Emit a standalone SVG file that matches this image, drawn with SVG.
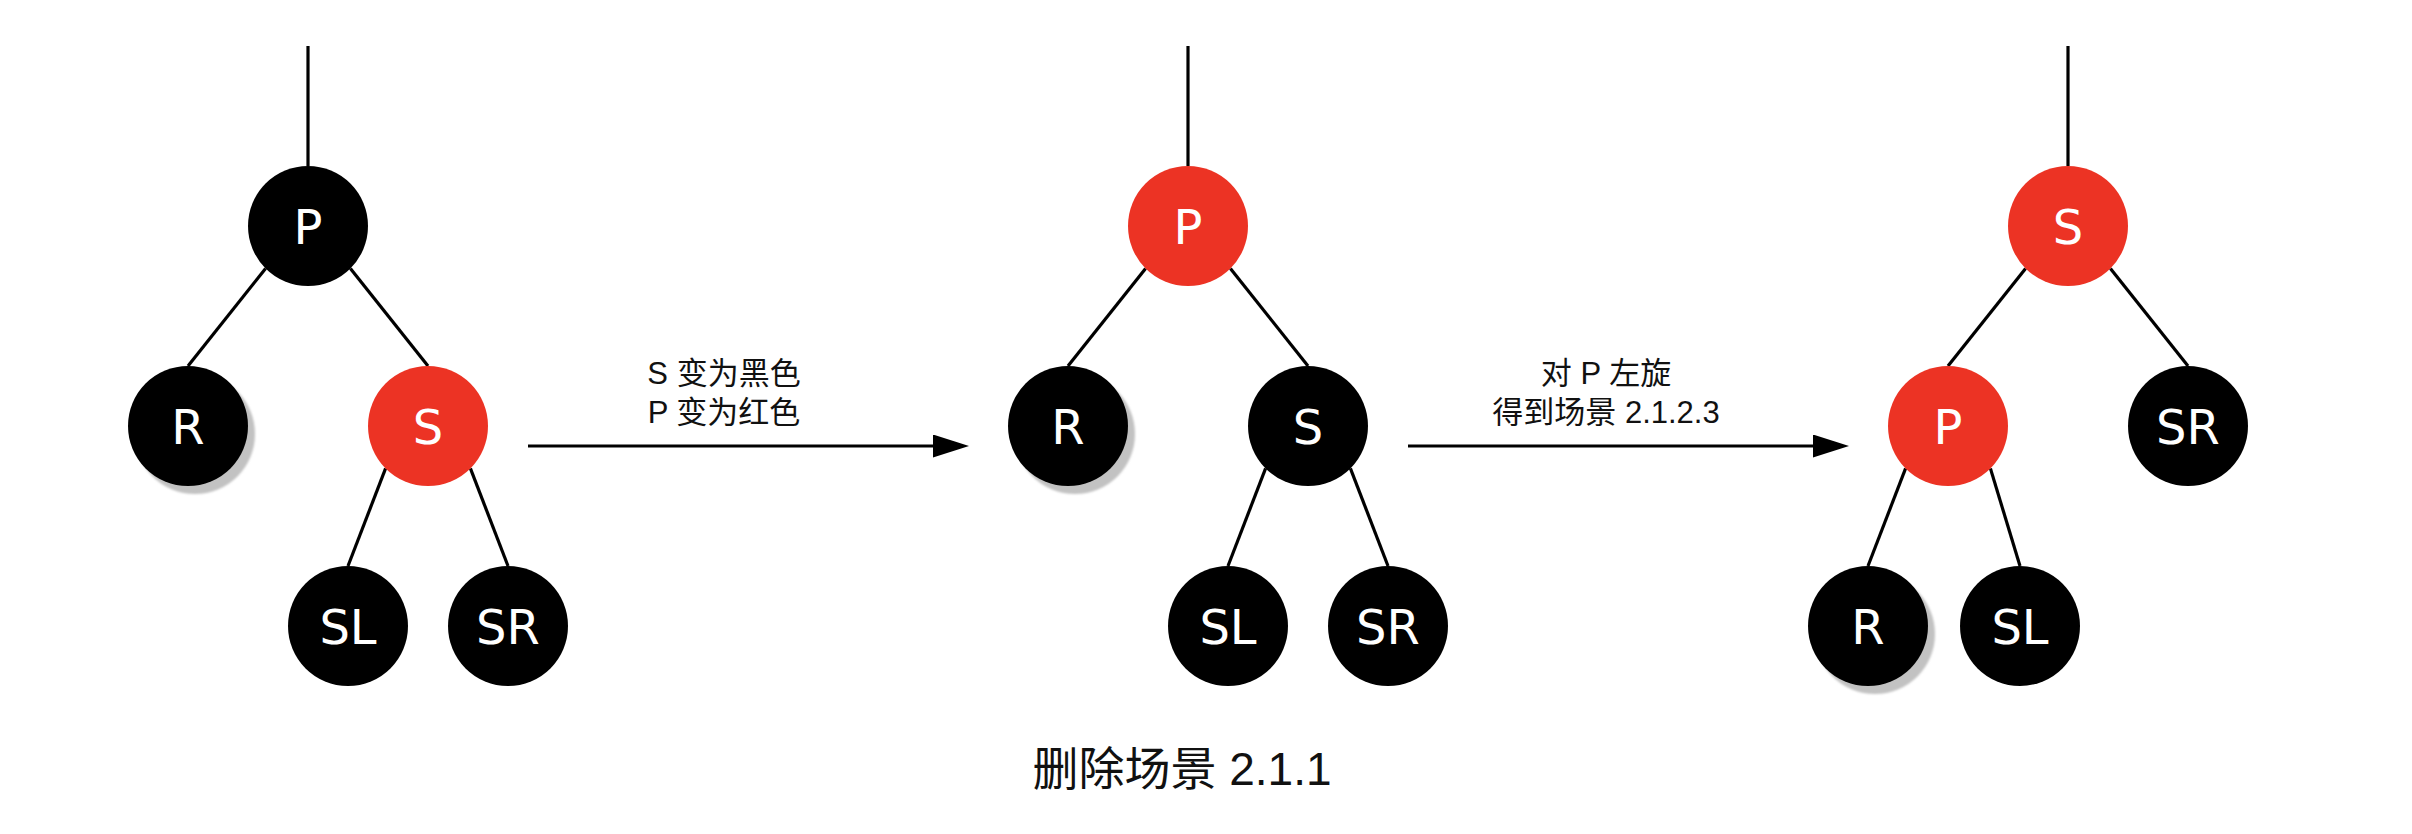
<svg xmlns="http://www.w3.org/2000/svg" width="2412" height="834" viewBox="0 0 2412 834">
  <style>
    .blk { fill: #000000; }
    .red { fill: #EC3324; }
    .shadow { fill: #c2c2c2; }
    .lbl { font-family: "DejaVu Sans", "Noto Sans", sans-serif; font-size: 48px; fill: #ffffff; text-anchor: middle; }
    .edge { stroke: #000000; stroke-width: 3.2; fill: none; }
    .note { font-family: "Liberation Sans", "Noto Sans CJK SC", sans-serif; font-size: 31px; fill: #111111; text-anchor: middle; }
    .cap { font-family: "Liberation Sans", "Noto Sans CJK SC", sans-serif; font-size: 46px; fill: #111111; text-anchor: middle; }
  </style>
  <defs>
    <marker id="arr" viewBox="0 0 36 23" refX="2" refY="11.5" markerWidth="36" markerHeight="23" markerUnits="userSpaceOnUse" orient="auto">
      <path d="M0,0 L36,11.5 L0,23 Z" fill="#000000"/>
    </marker>
    <filter id="blur" x="-20%" y="-20%" width="140%" height="140%">
      <feGaussianBlur stdDeviation="1"/>
    </filter>
  </defs>
  <rect width="2412" height="834" fill="#ffffff"/>

  <g id="connectors">
    <!-- tree 1 -->
    <line class="edge" x1="308" y1="46" x2="308" y2="166"/>
    <line class="edge" x1="265.6" y1="268.4" x2="188" y2="366"/>
    <line class="edge" x1="350.4" y1="268.4" x2="428" y2="366"/>
    <line class="edge" x1="385.6" y1="468.4" x2="348" y2="566"/>
    <line class="edge" x1="470.4" y1="468.4" x2="508" y2="566"/>
    <!-- tree 2 -->
    <line class="edge" x1="1188" y1="46" x2="1188" y2="166"/>
    <line class="edge" x1="1145.6" y1="268.4" x2="1068" y2="366"/>
    <line class="edge" x1="1230.4" y1="268.4" x2="1308" y2="366"/>
    <line class="edge" x1="1265.6" y1="468.4" x2="1228" y2="566"/>
    <line class="edge" x1="1350.4" y1="468.4" x2="1388" y2="566"/>
    <!-- tree 3 -->
    <line class="edge" x1="2068" y1="46" x2="2068" y2="166"/>
    <line class="edge" x1="2025.6" y1="268.4" x2="1948" y2="366"/>
    <line class="edge" x1="2110.4" y1="268.4" x2="2188" y2="366"/>
    <line class="edge" x1="1905.6" y1="468.4" x2="1868" y2="566"/>
    <line class="edge" x1="1990.4" y1="468.4" x2="2020" y2="566"/>
    <!-- transition arrows -->
    <line class="edge" x1="528" y1="446" x2="935" y2="446" marker-end="url(#arr)"/>
    <line class="edge" x1="1408" y1="446" x2="1815" y2="446" marker-end="url(#arr)"/>
  </g>

  <!-- Tree 1 -->
  <g id="t1-P"><circle class="blk" cx="308" cy="226" r="60"/><text class="lbl" x="308" y="244">P</text></g>
  <g id="t1-R"><circle class="shadow" cx="195" cy="434" r="60" filter="url(#blur)"/><circle class="blk" cx="188" cy="426" r="60"/><text class="lbl" x="188" y="444">R</text></g>
  <g id="t1-S"><circle class="red" cx="428" cy="426" r="60"/><text class="lbl" x="428" y="444">S</text></g>
  <g id="t1-SL"><circle class="blk" cx="348" cy="626" r="60"/><text class="lbl" x="348" y="644">SL</text></g>
  <g id="t1-SR"><circle class="blk" cx="508" cy="626" r="60"/><text class="lbl" x="508" y="644">SR</text></g>

  <!-- Tree 2 -->
  <g id="t2-P"><circle class="red" cx="1188" cy="226" r="60"/><text class="lbl" x="1188" y="244">P</text></g>
  <g id="t2-R"><circle class="shadow" cx="1075" cy="434" r="60" filter="url(#blur)"/><circle class="blk" cx="1068" cy="426" r="60"/><text class="lbl" x="1068" y="444">R</text></g>
  <g id="t2-S"><circle class="blk" cx="1308" cy="426" r="60"/><text class="lbl" x="1308" y="444">S</text></g>
  <g id="t2-SL"><circle class="blk" cx="1228" cy="626" r="60"/><text class="lbl" x="1228" y="644">SL</text></g>
  <g id="t2-SR"><circle class="blk" cx="1388" cy="626" r="60"/><text class="lbl" x="1388" y="644">SR</text></g>

  <!-- Tree 3 -->
  <g id="t3-S"><circle class="red" cx="2068" cy="226" r="60"/><text class="lbl" x="2068" y="244">S</text></g>
  <g id="t3-P"><circle class="red" cx="1948" cy="426" r="60"/><text class="lbl" x="1948" y="444">P</text></g>
  <g id="t3-SR"><circle class="blk" cx="2188" cy="426" r="60"/><text class="lbl" x="2188" y="444">SR</text></g>
  <g id="t3-R"><circle class="shadow" cx="1875" cy="634" r="60" filter="url(#blur)"/><circle class="blk" cx="1868" cy="626" r="60"/><text class="lbl" x="1868" y="644">R</text></g>
  <g id="t3-SL"><circle class="blk" cx="2020" cy="626" r="60"/><text class="lbl" x="2020" y="644">SL</text></g>

  <!-- Labels -->
  <g id="label-1">
    <text class="note" x="724" y="384">S 变为黑色</text>
    <text class="note" x="724" y="423">P 变为红色</text>
  </g>
  <g id="label-2">
    <text class="note" x="1606" y="384">对 P 左旋</text>
    <text class="note" x="1606" y="423">得到场景 2.1.2.3</text>
  </g>
  <g id="caption">
    <text class="cap" x="1182" y="785">删除场景 2.1.1</text>
  </g>
</svg>
